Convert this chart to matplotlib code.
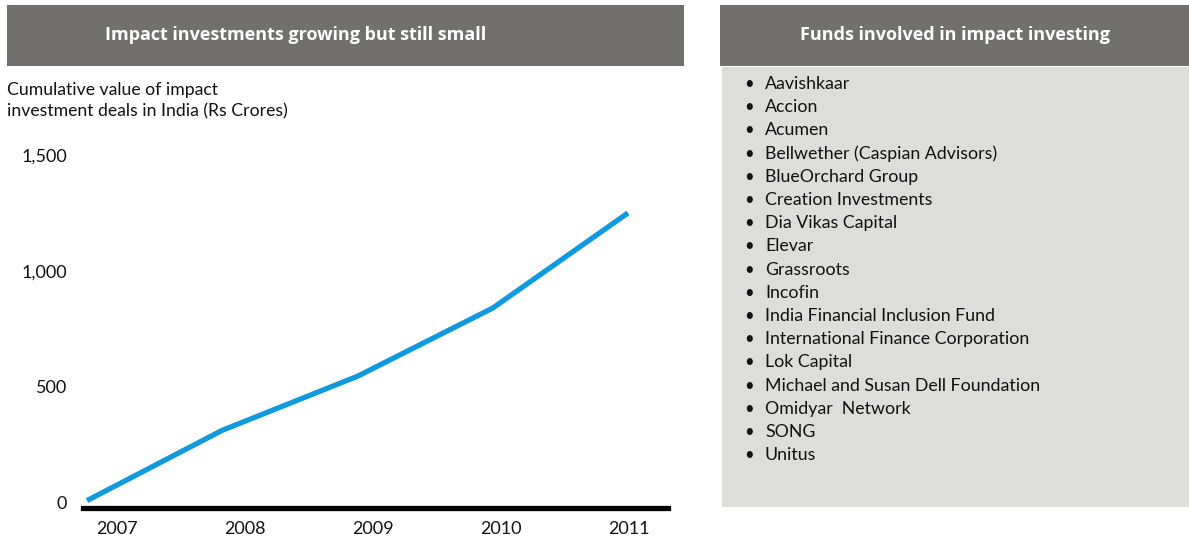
import matplotlib
matplotlib.use("Agg")
import matplotlib.pyplot as plt
from matplotlib.patches import Rectangle
from matplotlib.ticker import FuncFormatter
import numpy as np

plt.rcParams["font.family"] = ["Lato", "DejaVu Sans"]

# data
years = ["2007", "2008", "2009", "2010", "2011"]
cumulative_value = [10, 313, 546, 840, 1250]
y_ticks = [0, 500, 1000, 1500]

funds = [
    "Aavishkaar",
    "Accion",
    "Acumen",
    "Bellwether (Caspian Advisors)",
    "BlueOrchard Group",
    "Creation Investments",
    "Dia Vikas Capital",
    "Elevar",
    "Grassroots",
    "Incofin",
    "India Financial Inclusion Fund",
    "International Finance Corporation",
    "Lok Capital",
    "Michael and Susan Dell Foundation",
    "Omidyar  Network",
    "SONG",
    "Unitus",
]

left_title = "Impact investments growing but still small"
right_title = "Funds involved in impact investing"
subtitle = "Cumulative value of impact\ninvestment deals in India (Rs Crores)"

W, H = 1189, 541
header_grey = "#72706d"
panel_grey = "#dddddc"
blue = "#0f9ae0"

fig = plt.figure(figsize=(W / 100, H / 100), dpi=100)


def fx(px):
    return px / W


def fy(py):
    return 1 - py / H


def box(x0, y0, x1, y1, color):
    fig.add_artist(Rectangle((fx(x0), fy(y1)), fx(x1) - fx(x0), fy(y0) - fy(y1),
                             transform=fig.transFigure, facecolor=color,
                             edgecolor="none", zorder=0))


# header bars and list panel
box(7, 5, 684, 66, header_grey)
box(720, 5, 1189, 66, header_grey)
box(722, 67, 1189, 507, panel_grey)

fig.text(fx(296), fy(35), left_title, color="white", fontsize=13,
         fontweight="bold", ha="center", va="center", family=["Open Sans", "DejaVu Sans"])
fig.text(fx(955), fy(35), right_title, color="white", fontsize=13,
         fontweight="bold", ha="center", va="center", family=["Open Sans", "DejaVu Sans"])

fig.text(fx(7), fy(101), subtitle, fontsize=12.7, ha="left", va="center",
         linespacing=1.38, color="#111111")

# fund list
for i, name in enumerate(funds):
    yy = fy(84 + i * 23.2)
    fig.text(fx(749), yy, "•", fontsize=12, ha="center", va="center", color="#111111")
    fig.text(fx(765), yy, name, fontsize=12.8, ha="left", va="center", color="#111111")

# line chart
ax = fig.add_axes([fx(83), fy(508), fx(668) - fx(83), fy(145) - fy(508)])
x = np.arange(len(years))
ax.plot(x, cumulative_value, color=blue, linewidth=3.8, solid_capstyle="butt")

ax.set_xlim(-0.03, 4.296)
ax.set_ylim(-22, 1543)

ax.set_xticks(np.linspace(0.22, 4.01, len(years)))
ax.set_xticklabels(years)
ax.set_yticks(y_ticks)
ax.yaxis.set_major_formatter(FuncFormatter(lambda v, p: f"{int(v):,}"))
ax.tick_params(axis="both", length=0, labelsize=13, colors="#111111")
ax.tick_params(axis="y", pad=11.5)
ax.tick_params(axis="x", pad=9)

for s in ["top", "right", "left"]:
    ax.spines[s].set_visible(False)
ax.spines["bottom"].set_linewidth(3.8)
ax.spines["bottom"].set_color("black")
ax.patch.set_alpha(0)

fig.savefig("out.png", dpi=100)
